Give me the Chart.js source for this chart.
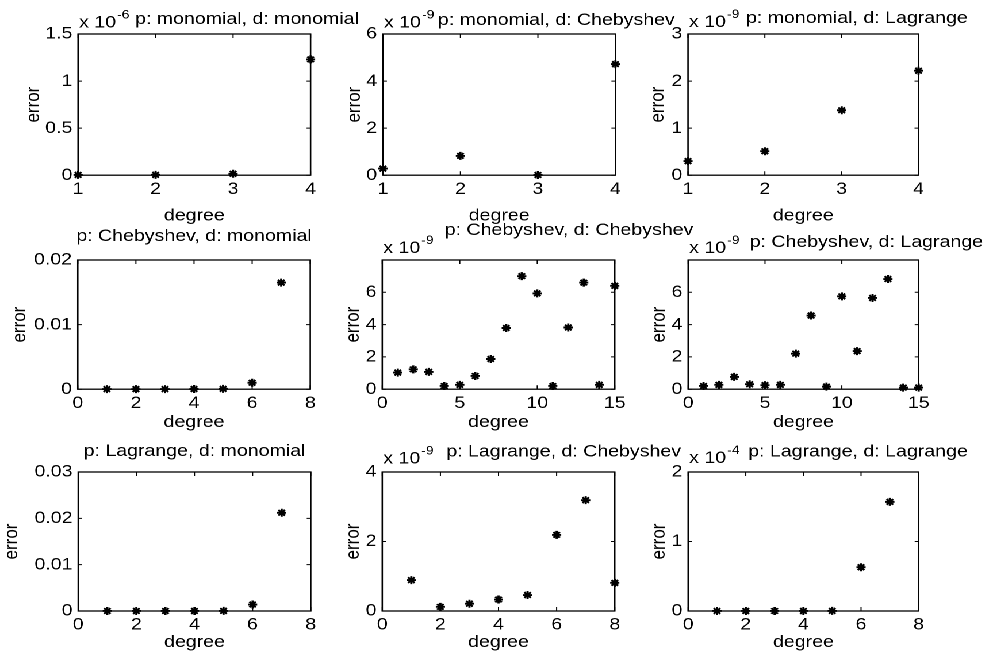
<!DOCTYPE html>
<html>
<head>
<meta charset="utf-8">
<script src="https://cdn.jsdelivr.net/npm/chart.js@4.4.1/dist/chart.umd.min.js"></script>
<style>
  html, body { margin: 0; padding: 0; background: #fff; overflow: hidden; }
  #fig { position: absolute; left: 0; top: 0; width: 860px; height: 662px; transform-origin: 0 0; }
  #fig canvas { position: absolute; }
</style>
</head>
<body>
<div id="fig"></div>
<script>
// error vs degree, one pair of arrays per subplot
// (values are in units of the axis multiplier shown above each plot)
var degMonoMono = [1, 2, 3, 4];
var errMonoMono = [0.003, 0.004, 0.015, 1.23];
var degMonoCheb = [1, 2, 3, 4];
var errMonoCheb = [0.28, 0.82, 0.01, 4.72];
var degMonoLag = [1, 2, 3, 4];
var errMonoLag = [0.30, 0.51, 1.38, 2.22];

var degChebMono = [1, 2, 3, 4, 5, 6, 7];
var errChebMono = [0.00002, 0.00002, 0.00002, 0.00003, 0.00005, 0.0010, 0.0165];
var degChebCheb = [1, 2, 3, 4, 5, 6, 7, 8, 9, 10, 11, 12, 13, 14, 15];
var errChebCheb = [1.03, 1.23, 1.07, 0.20, 0.27, 0.82, 1.87, 3.79, 7.0, 5.93, 0.20, 3.82, 6.6, 0.27, 6.4];
var degChebLag = [1, 2, 3, 4, 5, 6, 7, 8, 9, 10, 11, 12, 13, 14, 15];
var errChebLag = [0.20, 0.27, 0.76, 0.31, 0.25, 0.27, 2.2, 4.56, 0.16, 5.75, 2.36, 5.65, 6.82, 0.10, 0.10];

var degLagMono = [1, 2, 3, 4, 5, 6, 7];
var errLagMono = [0.00001, 0.00001, 0.00001, 0.00001, 0.00002, 0.0014, 0.0212];
var degLagCheb = [1, 2, 3, 4, 5, 6, 7, 8];
var errLagCheb = [0.89, 0.12, 0.21, 0.33, 0.46, 2.19, 3.19, 0.81];
var degLagLag = [1, 2, 3, 4, 5, 6, 7];
var errLagLag = [0.0005, 0.0005, 0.0005, 0.0005, 0.001, 0.63, 1.57];

var titles = [
  'p: monomial, d: monomial', 'p: monomial, d: Chebyshev', 'p: monomial, d: Lagrange',
  'p: Chebyshev, d: monomial', 'p: Chebyshev, d: Chebyshev', 'p: Chebyshev, d: Lagrange',
  'p: Lagrange, d: monomial', 'p: Lagrange, d: Chebyshev', 'p: Lagrange, d: Lagrange'
];
var exponents = [-6, -9, -9, null, -9, -9, null, -9, -4];

var xTicks = [[1, 2, 3, 4], [1, 2, 3, 4], [1, 2, 3, 4],
              [0, 2, 4, 6, 8], [0, 5, 10, 15], [0, 5, 10, 15],
              [0, 2, 4, 6, 8], [0, 2, 4, 6, 8], [0, 2, 4, 6, 8]];
var yTicks = [[0, 0.5, 1, 1.5], [0, 2, 4, 6], [0, 1, 2, 3],
              [0, 0.01, 0.02], [0, 2, 4, 6], [0, 2, 4, 6],
              [0, 0.01, 0.02, 0.03], [0, 2, 4], [0, 1, 2]];
var yMax = [1.5, 6, 3, 0.02, 8, 8, 0.03, 4, 2];

var degs = [degMonoMono, degMonoCheb, degMonoLag, degChebMono, degChebCheb, degChebLag, degLagMono, degLagCheb, degLagLag];
var errs = [errMonoMono, errMonoCheb, errMonoLag, errChebMono, errChebCheb, errChebLag, errLagMono, errLagCheb, errLagLag];

// ---- figure geometry (page pixels) ----
var S = 1.15;                       // figure is stretched sideways
var FS = 17;                        // font size before the stretch
var HALF = FS * 1.2 / 2;
var colL = [78, 382.5, 688.5], colR = [310.5, 615, 919];
var rowT = [33.8, 259.8, 471.8], rowB = [175, 389, 610.8];
var xBand = [50.8, 43.1, 41.3];     // room under each row for tick labels + xlabel
var ylabOff = [44.5, 28.5, 30, 58, 29, 29, 66.5, 29, 29];
var titleDx = [57, 55, 58, null, 62.5, 61.5, null, 64, 60];
var titleDy = [10, 9, 11, 18.8, 24.8, 13.1, 15.8, 15.6, 15.5];
var expDy = [6.7, 6.5, 7, 0, 6.8, 7.1, 0, 8.5, 9.2];
var PAD_T = 46, PAD_R = 90;

var FONT = '"Liberation Sans", Arial, Helvetica, sans-serif';
var INK = '#000';

var fig = document.getElementById('fig');
fig.style.transform = 'scaleX(' + S + ')';

// box, inward ticks, title and the "x 10^n" multiplier
var axesBox = {
  id: 'axesBox',
  afterDraw: function(chart, args, o) {
    var a = chart.chartArea, ctx = chart.ctx;
    var sx = chart.scales.x, sy = chart.scales.y;
    ctx.save();
    ctx.strokeStyle = INK;
    ctx.lineWidth = 1.3;
    ctx.strokeRect(a.left, a.top, a.right - a.left, a.bottom - a.top);
    ctx.lineWidth = 1;
    ctx.beginPath();
    sx.ticks.forEach(function(t) {
      var px = sx.getPixelForValue(t.value);
      ctx.moveTo(px, a.bottom); ctx.lineTo(px, a.bottom - 4);
      ctx.moveTo(px, a.top); ctx.lineTo(px, a.top + 4);
    });
    sy.ticks.forEach(function(t) {
      var py = sy.getPixelForValue(t.value);
      ctx.moveTo(a.left, py); ctx.lineTo(a.left + 4 / S, py);
      ctx.moveTo(a.right, py); ctx.lineTo(a.right - 4 / S, py);
    });
    ctx.stroke();

    ctx.fillStyle = INK;
    ctx.textBaseline = 'alphabetic';
    ctx.font = FS + 'px ' + FONT;
    if (o.dx === null) {
      ctx.textAlign = 'center';
      ctx.fillText(o.title, (a.left + a.right) / 2, a.top - o.dy);
    } else {
      ctx.textAlign = 'left';
      ctx.fillText(o.title, a.left + o.dx / S, a.top - o.dy);
    }
    if (o.exp !== null) {
      ctx.textAlign = 'left';
      var ex = a.left + 1 / S, ey = a.top - o.edy;
      ctx.fillText('x 10', ex, ey);
      var w = ctx.measureText('x 10').width;
      ctx.font = '12px ' + FONT;
      ctx.fillText(String(o.exp), ex + w + 1, ey - 9);
    }
    ctx.restore();
  }
};

function fmt(v) { return String(v); }

for (var i = 0; i < 9; i++) {
  var r = Math.floor(i / 3), c = i % 3;
  var bl = colL[c] / S, br = colR[c] / S, bt = rowT[r], bb = rowB[r];
  var yW = ylabOff[i] / S + HALF;
  var xH = xBand[r] + (HALF - 10.2);
  var w = Math.ceil(yW + (br - bl) + PAD_R);
  var h = Math.ceil(PAD_T + (bb - bt) + xH);

  var cv = document.createElement('canvas');
  cv.width = w; cv.height = h;
  cv.style.left = (bl - yW) + 'px';
  cv.style.top = (bt - PAD_T) + 'px';
  fig.appendChild(cv);

  var pts = degs[i].map(function(d, k) { return { x: d, y: errs[i][k] }; });
  var xt = xTicks[i], yt = yTicks[i];

  new Chart(cv, {
    type: 'scatter',
    data: {
      datasets: [{
        data: pts,
        pointStyle: 'star',
        pointRadius: 4,
        pointHoverRadius: 4,
        borderWidth: 1.9,
        borderColor: INK,
        backgroundColor: INK,
        clip: false
      }]
    },
    options: {
      responsive: false,
      animation: false,
      devicePixelRatio: 2,
      events: [],
      layout: {
        padding: { left: 0, top: PAD_T, right: w - yW - (br - bl), bottom: h - PAD_T - (bb - bt) - xH }
      },
      plugins: {
        legend: { display: false },
        tooltip: { enabled: false },
        axesBox: { title: titles[i], dx: titleDx[i], dy: titleDy[i], exp: exponents[i], edy: expDy[i] }
      },
      scales: {
        x: {
          type: 'linear',
          min: xt[0], max: xt[xt.length - 1],
          afterBuildTicks: (function(t) { return function(s) { s.ticks = t.map(function(v) { return { value: v }; }); }; })(xt),
          afterFit: (function(hh) { return function(s) { s.height = hh; }; })(xH),
          grid: { display: false, drawTicks: false },
          border: { display: false },
          ticks: { padding: 3.8, color: INK, maxRotation: 0, autoSkip: false, font: { family: FONT, size: FS }, callback: fmt },
          title: { display: true, text: 'degree', padding: 0, color: INK, font: { family: FONT, size: FS } }
        },
        y: {
          type: 'linear',
          min: 0, max: yMax[i],
          afterBuildTicks: (function(t) { return function(s) { s.ticks = t.map(function(v) { return { value: v }; }); }; })(yt),
          afterFit: (function(ww) { return function(s) { s.width = ww; }; })(yW),
          grid: { display: false, drawTicks: false },
          border: { display: false },
          ticks: { padding: 5, color: INK, autoSkip: false, font: { family: FONT, size: FS }, callback: fmt },
          title: { display: true, text: 'error', padding: 0, color: INK, font: { family: FONT, size: FS } }
        }
      }
    },
    plugins: [axesBox]
  });
}
</script>
</body>
</html>
